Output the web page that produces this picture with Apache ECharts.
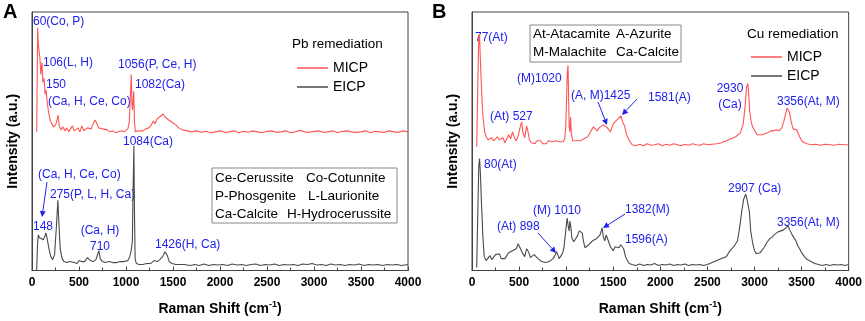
<!DOCTYPE html>
<html>
<head>
<meta charset="utf-8">
<script src="https://cdn.jsdelivr.net/npm/echarts@6/dist/echarts.min.js"></script>
<style>
  html, body { margin: 0; padding: 0; background: #fff; }
  #main { width: 865px; height: 321px; }
</style>
</head>
<body>
<div id="main"></div>
<script>
// Raman spectra, [shift cm-1, intensity a.u.]
var pbMicp = [[50,140],[60,245],[66,230],[74,222],[84,215],[94,198],[106,210],[116,190],[128,194],[140,178],[150,182],[162,170],[176,160],[192,152],[210,148],[230,145],[252,147],[266,152],[277,157],[290,146],[310,142],[330,145],[350,141],[370,144],[390,140],[410,143],[430,146],[450,141],[470,139],[490,144],[510,140],[530,146],[550,141],[570,139],[590,144],[610,142],[630,143],[650,148],[672,152],[690,150],[710,144],[730,142],[750,143],[770,141],[800,142],[830,140],[860,141],[890,139],[920,140],[950,141],[980,140],[1000,141],[1020,143],[1035,150],[1046,175],[1056,198],[1063,168],[1070,162],[1076,172],[1082,181],[1090,150],[1100,140],[1115,139],[1130,141],[1150,142],[1180,141],[1210,143],[1240,144],[1270,147],[1290,151],[1310,148],[1330,153],[1350,151],[1370,156],[1395,158],[1415,155],[1435,157],[1455,152],[1475,153],[1500,149],[1530,147],[1560,144],[1600,142],[1650,141],[1700,140],[1750,141],[1800,139.5],[1850,140.5],[1900,139],[1950,140],[2000,141],[2050,139.5],[2100,140],[2150,141],[2200,139],[2250,140.5],[2300,139.5],[2350,141],[2400,140],[2450,139],[2500,140.5],[2550,141],[2600,139.5],[2650,140],[2700,141],[2750,139],[2800,140],[2850,141.5],[2900,140],[2950,139.5],[3000,140.5],[3050,141],[3100,139.5],[3150,140],[3200,141],[3250,139],[3300,140.5],[3350,141],[3400,140],[3450,139.5],[3500,140],[3550,141],[3600,139],[3650,140.5],[3700,140],[3750,139.5],[3800,141],[3850,140],[3900,139.5],[3950,141],[4000,140]];

var pbEicp = [[50,0],[58,25],[67,36],[80,33],[100,35],[120,31],[135,34],[148,38],[160,33],[180,22],[200,14],[220,11],[240,16],[260,45],[275,71],[285,50],[300,22],[320,12],[340,9],[370,8],[400,9],[420,11],[450,8],[480,7],[500,10],[530,9],[560,9],[590,13],[620,10],[650,9],[680,11],[700,17],[712,20],[725,12],[750,9],[780,8],[820,9],[860,8],[900,8],[940,9],[980,9],[1020,10],[1040,14],[1055,20],[1068,30],[1075,80],[1084,126],[1090,60],[1097,12],[1110,7],[1140,6],[1180,6],[1220,7],[1260,7],[1300,10],[1330,9],[1360,11],[1390,14],[1415,19],[1428,20],[1440,15],[1460,9],[1490,7],[1530,6],[1570,6],[1620,6],[1680,5],[1730,6],[1780,5],[1830,6.5],[1880,5],[1930,6],[1980,5.5],[2030,6],[2080,5],[2130,6.5],[2180,5.5],[2230,6],[2280,5],[2330,6],[2380,6.5],[2430,5],[2480,6],[2530,5.5],[2580,6.5],[2630,5],[2680,6],[2730,5.5],[2780,6],[2830,5],[2880,6.5],[2930,6],[2980,7],[3030,5.5],[3080,6],[3130,5],[3180,6.5],[3230,5.5],[3280,6],[3330,5],[3380,6],[3430,5.5],[3480,6.5],[3530,5],[3580,6],[3630,5.5],[3680,6],[3730,5],[3780,6],[3830,5.5],[3880,6],[3930,5],[4000,6]];

var cuMicp = [[50,125],[62,190],[72,236],[80,239],[88,215],[98,190],[110,165],[122,150],[135,140],[150,135],[170,132],[190,130],[210,134],[230,131],[250,129],[270,135],[290,132],[310,130],[330,134],[350,129],[370,131],[390,137],[410,133],[430,140],[450,134],[470,131],[490,136],[510,144],[527,150],[540,140],[560,134],[580,146],[595,140],[610,132],[630,129],[650,131],[670,128],[690,131],[710,129],[730,131],[750,128],[770,130],[790,128],[810,131],[830,129],[850,130],[870,128],[890,131],[910,129],[930,130],[950,128],[970,130],[985,133],[995,145],[1005,175],[1012,200],[1020,207],[1026,175],[1032,145],[1040,140],[1047,155],[1055,138],[1070,131],[1090,129],[1110,131],[1130,133],[1150,131],[1170,129],[1190,133],[1210,131],[1230,135],[1250,137],[1270,142],[1290,145],[1310,143],[1330,141],[1350,144],[1370,146],[1390,147],[1410,148],[1430,145],[1450,147],[1470,140],[1485,144],[1500,148],[1520,150],[1540,152],[1560,152],[1581,156],[1600,150],[1620,146],[1640,138],[1660,133],[1680,130],[1700,127],[1740,126],[1780,127.5],[1820,126],[1860,128],[1900,126.5],[1940,127],[1980,128],[2020,126],[2060,127.5],[2100,126.5],[2140,128],[2180,127],[2220,126],[2260,127.5],[2300,126.5],[2340,128],[2380,127],[2420,126.5],[2460,128],[2500,127],[2550,127.5],[2600,128],[2650,129],[2700,131],[2750,133],[2800,135],[2850,139],[2880,148],[2900,165],[2915,185],[2930,189],[2940,175],[2950,160],[2965,150],[2980,145],[2995,145],[3010,140],[3030,137],[3050,136],[3080,137],[3110,138],[3140,139],[3170,141],[3200,141],[3230,142],[3260,141],[3290,144],[3310,150],[3330,158],[3345,164],[3356,166],[3370,160],[3390,150],[3410,143],[3430,141],[3450,142],[3465,140],[3480,135],[3500,131],[3530,129],[3560,128],[3600,127],[3650,127.5],[3700,126.5],[3750,127.5],[3800,127],[3850,126.5],[3900,127.5],[3950,127],[4000,127]];

var cuEicp = [[50,3],[62,60],[72,105],[80,113],[88,100],[100,70],[115,35],[130,14],[150,10],[170,12],[190,15],[210,11],[230,13],[250,16],[270,14],[290,17],[310,12],[330,11],[350,12],[370,15],[390,18],[410,16],[430,20],[450,18],[470,22],[490,27],[505,25],[520,21],[540,17],[560,14],[580,22],[600,19],[620,13],[640,11],[660,16],[680,15],[700,12],[720,13],[740,9],[760,7],[780,8],[800,7],[820,9],[840,10],[860,12],[880,15],[898,19],[910,16],[925,12],[940,13],[960,17],[975,22],[990,35],[1010,53],[1022,45],[1032,40],[1040,50],[1050,44],[1060,33],[1080,29],[1100,31],[1120,35],[1140,40],[1155,42],[1170,38],[1185,29],[1200,23],[1220,22],[1240,26],[1260,28],[1280,30],[1300,28],[1320,32],[1340,34],[1360,36],[1382,43],[1395,34],[1410,30],[1425,36],[1440,35],[1455,28],[1470,24],[1485,22],[1500,20],[1520,24],[1540,25],[1560,23],[1580,26],[1596,28],[1610,22],[1630,14],[1650,10],[1670,7],[1700,6],[1740,5],[1780,6.5],[1820,5],[1860,6],[1900,5.5],[1940,7],[1980,5],[2020,6],[2060,5.5],[2100,6.5],[2140,5],[2180,6],[2220,5.5],[2260,6.5],[2300,5],[2340,6],[2380,5.5],[2420,6],[2460,5],[2500,6],[2550,8],[2600,10],[2650,12],[2700,14],[2740,20],[2780,24],[2820,30],[2845,45],[2865,60],[2885,72],[2907,77],[2920,72],[2931,74],[2945,60],[2960,40],[2980,28],[3000,20],[3020,17],[3040,16],[3060,18],[3080,19],[3100,23],[3130,28],[3160,32],[3190,34],[3220,37],[3250,39],[3280,40],[3310,41],[3330,43],[3356,45],[3380,40],[3400,36],[3420,34],[3440,30],[3460,25],[3480,22],[3500,18],[3530,14],[3560,11],[3600,9],[3640,7],[3680,6],[3720,5],[3760,6],[3800,5],[3840,6],[3880,5.5],[3920,6],[3960,5],[4000,6]];

var xTicks = [0, 500, 1000, 1500, 2000, 2500, 3000, 3500, 4000];

var RED = '#ff5555', GREY = '#4a4a4a', BLUE = '#2020ee';

var chart = echarts.init(document.getElementById('main'));

function xAx(idx) {
  return {
    type: 'value', gridIndex: idx, min: xTicks[0], max: xTicks[xTicks.length - 1], interval: 500,
    name: 'Raman Shift (cm{sup|-1})', nameLocation: 'middle', nameGap: 30,
    nameTextStyle: { fontFamily: 'Liberation Sans', fontWeight: 'bold', fontSize: 14, color: '#000',
      rich: { sup: { fontFamily: 'Liberation Sans', fontWeight: 'bold', fontSize: 9, padding: [0, 0, 8, 0] } } },
    axisLine: { lineStyle: { color: '#444' } },
    axisTick: { inside: true, length: 4, lineStyle: { color: '#444' } },
    minorTick: { show: true, splitNumber: 2, length: 3, lineStyle: { color: '#444' } },
    axisLabel: { fontFamily: 'Liberation Sans', fontWeight: 'bold', fontSize: 12, color: '#000', margin: 6,
      formatter: function (v) { return String(v); } },
    splitLine: { show: false }
  };
}
function yAx(idx) {
  return {
    type: 'value', gridIndex: idx, min: 0, max: 261,
    name: 'Intensity (a.u.)', nameLocation: 'middle', nameGap: 12,
    nameTextStyle: { fontFamily: 'Liberation Sans', fontWeight: 'bold', fontSize: 14, color: '#000' },
    axisLine: { show: true, lineStyle: { color: '#444' } },
    axisTick: { show: false }, axisLabel: { show: false }, splitLine: { show: false }
  };
}
function line(name, data, color, idx) {
  return { name: name, type: 'line', data: data, xAxisIndex: idx, yAxisIndex: idx,
    showSymbol: false, lineStyle: { color: color, width: 1.1 }, itemStyle: { color: color },
    animation: false };
}

// text annotations
var LBL = '12px "Liberation Sans"';
function t(txt, x, y, opt) {
  opt = opt || {};
  return { type: 'text', x: x, y: y, silent: true,
    style: { text: txt, font: opt.font || LBL, fill: opt.fill || BLUE,
      align: opt.align || 'left', verticalAlign: 'middle' } };
}
function arrow(x1, y1, x2, y2) {
  var a = Math.atan2(y2 - y1, x2 - x1), L = 6, w = 3;
  var bx = x2 - L * Math.cos(a), by = y2 - L * Math.sin(a);
  return [
    { type: 'line', silent: true, shape: { x1: x1, y1: y1, x2: bx, y2: by }, style: { stroke: BLUE, lineWidth: 1 } },
    { type: 'polygon', silent: true, shape: { points: [[x2, y2],
      [bx + w * Math.sin(a), by - w * Math.cos(a)], [bx - w * Math.sin(a), by + w * Math.cos(a)]] },
      style: { fill: BLUE } }
  ];
}
var BOX = '13.5px "Liberation Sans"';
var graphics = [
  t('A', 3, 12, { font: 'bold 20px "Liberation Sans"', fill: '#000' }),
  t('B', 432, 12, { font: 'bold 20px "Liberation Sans"', fill: '#000' }),
  // panel A
  t('60(Co, P)', 33, 22), t('106(L, H)', 43, 63), t('150', 46, 85), t('(Ca, H, Ce, Co)', 48, 102),
  t('1056(P, Ce, H)', 118, 65), t('1082(Ca)', 135, 85), t('1084(Ca)', 123, 142),
  t('(Ca, H, Ce, Co)', 38, 175), t('275(P, L, H, Ca)', 50, 195), t('148', 33, 227),
  t('(Ca, H)', 100, 231, { align: 'center' }), t('710', 100, 247, { align: 'center' }),
  t('1426(H, Ca)', 155, 245),
  t('Pb remediation', 292, 44, { font: '13.5px "Liberation Sans"', fill: '#000' }),
  { type: 'rect', silent: true, shape: { x: 212, y: 168, width: 185, height: 55 }, style: { fill: 'none', stroke: '#888', lineWidth: 1 } },
  t('Ce-Cerussite', 215, 178, { font: BOX, fill: '#000' }), t('Co-Cotunnite', 306, 178, { font: BOX, fill: '#000' }),
  t('P-Phosgenite', 215, 196, { font: BOX, fill: '#000' }), t('L-Laurionite', 308, 196, { font: BOX, fill: '#000' }),
  t('Ca-Calcite', 215, 214, { font: BOX, fill: '#000' }), t('H-Hydrocerussite', 287, 214, { font: BOX, fill: '#000' }),
  // panel B
  t('77(At)', 475, 38), t('(At) 527', 490, 117), t('(M)1020', 517, 79), t('(A, M)1425', 571, 96),
  t('1581(A)', 648, 98), t('2930', 730, 89, { align: 'center' }), t('(Ca)', 730, 105, { align: 'center' }),
  t('3356(At, M)', 777, 102),
  t('80(At)', 484, 165), t('(At) 898', 497, 227), t('(M) 1010', 533, 211), t('1382(M)', 625, 210),
  t('1596(A)', 625, 240), t('2907 (Ca)', 728, 189), t('3356(At, M)', 777, 223),
  t('Cu remediation', 747, 34, { font: '13.5px "Liberation Sans"', fill: '#000' }),
  { type: 'rect', silent: true, shape: { x: 530, y: 25, width: 151, height: 37 }, style: { fill: 'none', stroke: '#888', lineWidth: 1 } },
  t('At-Atacamite', 533, 34, { font: BOX, fill: '#000' }), t('A-Azurite', 616, 34, { font: BOX, fill: '#000' }),
  t('M-Malachite', 533, 52, { font: BOX, fill: '#000' }), t('Ca-Calcite', 616, 52, { font: BOX, fill: '#000' })
];
graphics = graphics
  .concat(arrow(47, 182, 42, 217))
  .concat(arrow(598, 102, 607, 125))
  .concat(arrow(637, 99, 622, 115))
  .concat(arrow(538, 233, 556, 253))
  .concat(arrow(625, 214, 603, 228));

var legendBase = {
  orient: 'vertical', itemWidth: 31, itemHeight: 1.5, itemGap: 5, icon: 'rect',
  textStyle: { fontFamily: 'Liberation Sans', fontSize: 14, color: '#000' }
};

chart.setOption({
  animation: false,
  textStyle: { fontFamily: 'Liberation Sans' },
  grid: [
    { left: 32, right: 457, top: 12, bottom: 48, show: true, borderColor: '#444', borderWidth: 1 },
    { left: 472, right: 16, top: 12, bottom: 48, show: true, borderColor: '#444', borderWidth: 1 }
  ],
  xAxis: [xAx(0), xAx(1)],
  yAxis: [yAx(0), yAx(1)],
  legend: [
    Object.assign({}, legendBase, { left: 292, top: 56, data: ['MICP', 'EICP'] }),
    Object.assign({}, legendBase, { left: 746, top: 45, data: ['MICP ', 'EICP '] })
  ],
  series: [
    line('MICP', pbMicp, RED, 0),
    line('EICP', pbEicp, GREY, 0),
    line('MICP ', cuMicp, RED, 1),
    line('EICP ', cuEicp, GREY, 1)
  ],
  graphic: graphics
});
</script>
</body>
</html>
